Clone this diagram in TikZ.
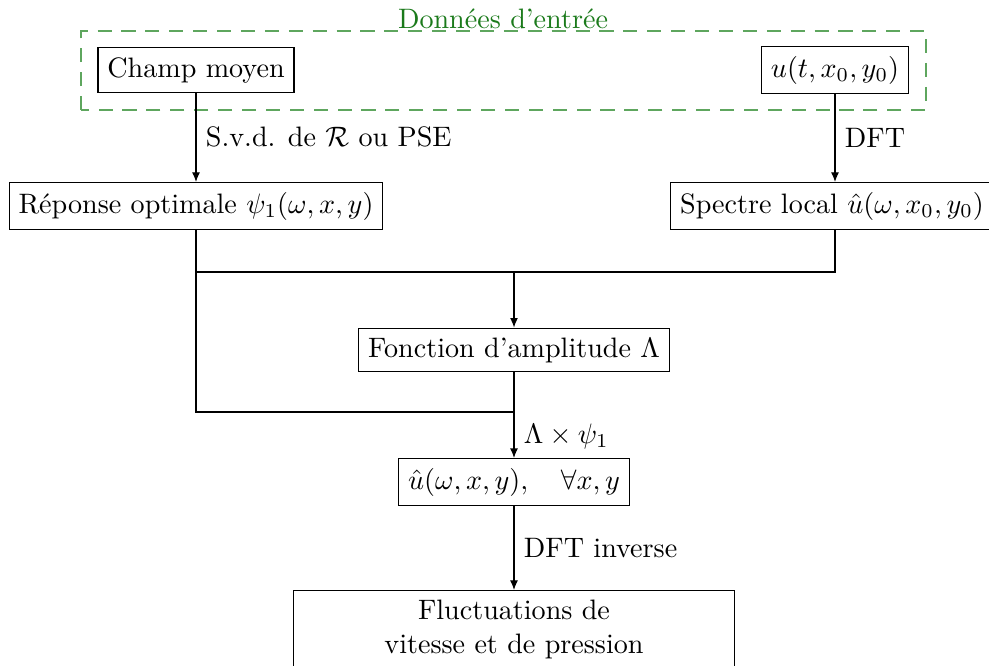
\documentclass[tikz,border=0pt]{standalone}
\usepackage{amsmath}
\usepackage{tikz}
\usepackage{xcolor}
\usetikzlibrary{arrows.meta,positioning,calc}
\definecolor{Vert}{HTML}{1B7A1B}
\definecolor{VertClair}{HTML}{5EA65E}

\begin{document}
\begin{tikzpicture}[x=0.125cm,y=0.125cm,
  boite/.style={draw,rectangle},
  fleche/.style={-{Latex[length=3.4pt,width=2.8pt]}}]
  \useasboundingbox (0,0) rectangle (98.9,66.6);
  % donnees d'entree
  \draw[VertClair,dashed,dash pattern=on 5pt off 3.5pt] (8.1,55.6) rectangle (92.6,63.5);
  \node[Vert,anchor=base] (titre) at (50.3,63.75) {Données d'entrée};
  \node[boite] (champ) at (19.6,59.6) {Champ moyen};
  \node[boite] (usig) at (83.5,59.6) {$u(t,x_0,y_0)$};
  % reponse et spectre
  \node[boite] (rep) at (19.6,46.0) {Réponse optimale $\psi_1(\omega,x,y)$};
  \node[boite] (spec) at (83.2,46.0) {Spectre local $\hat{u}(\omega,x_0,y_0)$};
  \draw[fleche] (champ.south) -- node[right]{S.v.d. de $\mathcal{R}$ ou PSE} (champ.south |- rep.north);
  \draw[fleche] (usig.south) -- node[right]{DFT} (usig.south |- spec.north);
  % amplitude
  \node[boite] (ampl) at (51.4,31.6) {Fonction d'amplitude $\Lambda$};
  \coordinate (jonc) at (51.4,39.4);
  \coordinate (jonc2) at (51.4,25.4);
  \draw (rep.south) -- (rep.south |- jonc) -- (usig.south |- jonc) -- (usig.south |- spec.south);
  \draw[fleche] (jonc) -- (ampl.north);
  \draw (rep.south |- jonc) -- (rep.south |- jonc2) -- (jonc2);
  % champ complet
  \node[boite] (uchap) at (51.4,18.4) {$\hat{u}(\omega,x,y),\quad\forall x,y$};
  \draw[fleche] (ampl.south) -- node[right,pos=0.75]{$\Lambda\times\psi_1$} (uchap.north);
  \node[boite,anchor=north,text width=5.27cm,align=center] (fluct) at (51.4,7.6) {Fluctuations de\\vitesse et de pression};
  \draw[fleche] (uchap.south) -- node[right]{DFT inverse} (fluct.north);
\end{tikzpicture}
\end{document}
